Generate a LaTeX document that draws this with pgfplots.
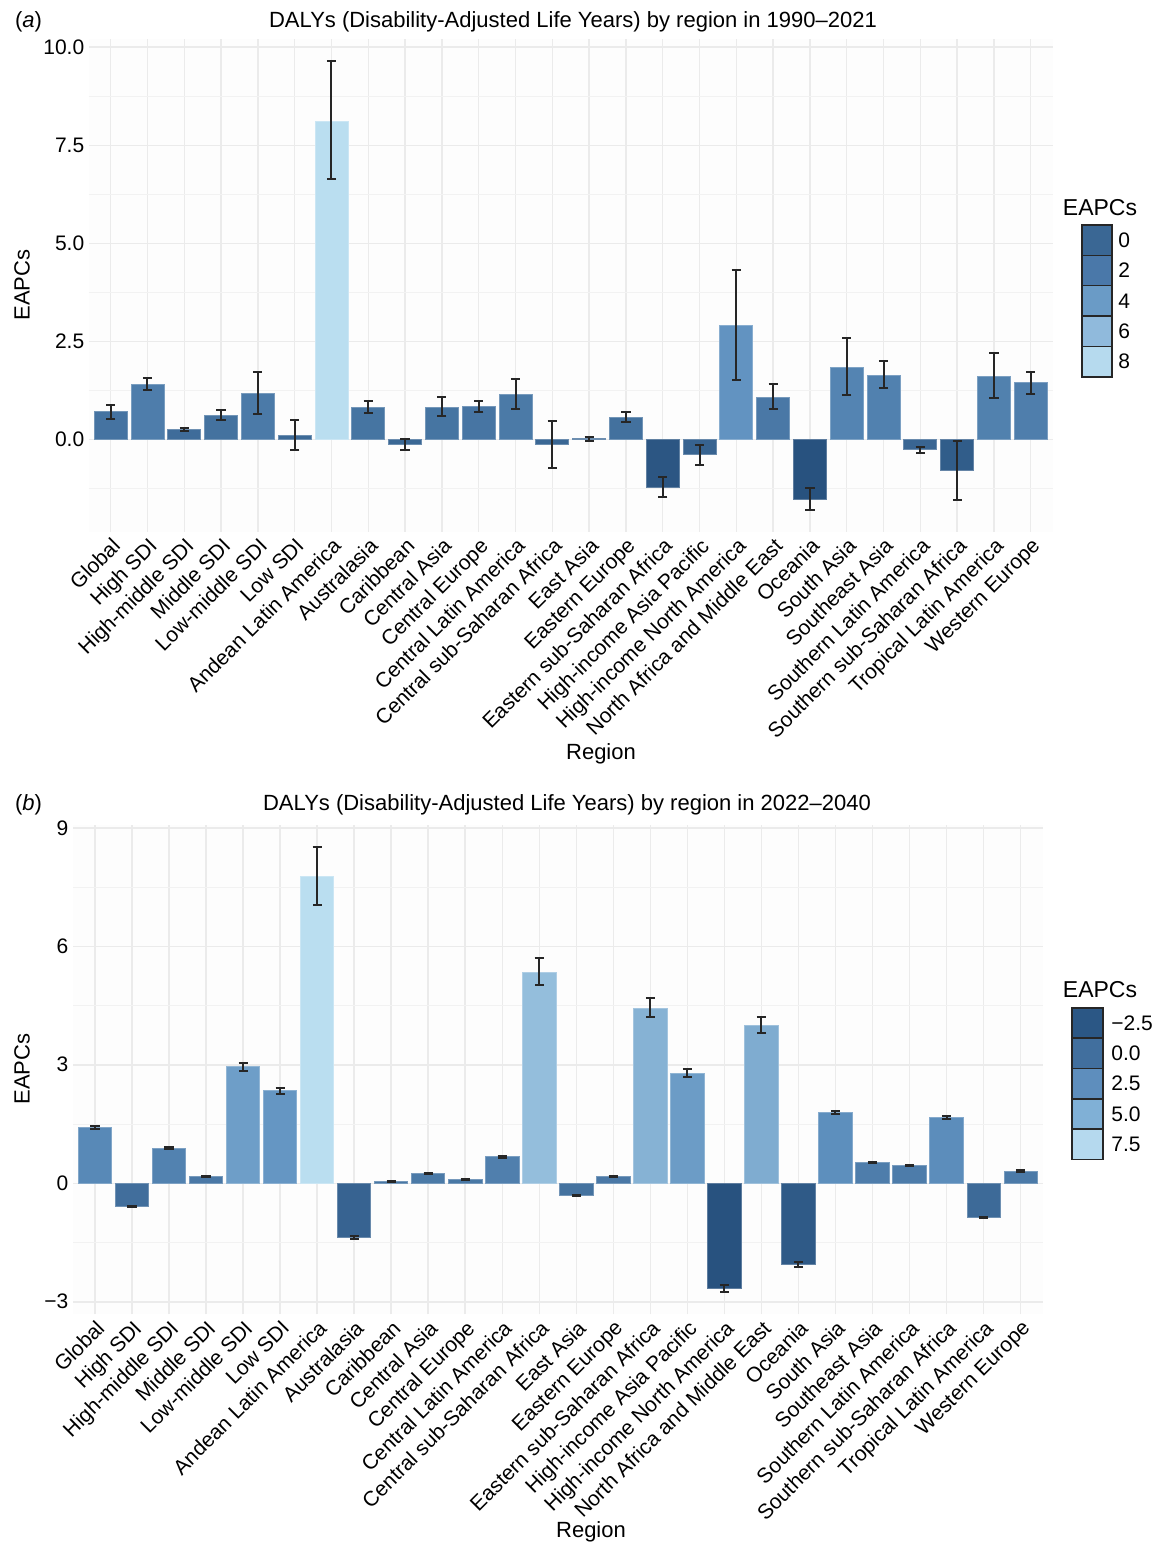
\documentclass[border=0pt]{standalone}
\usepackage{fontspec}
\setmainfont{Liberation Sans}
\usepackage{pgfplots}
\usepackage{pgfplotstable}
\pgfplotsset{compat=1.18}

\definecolor{cLo}{HTML}{28527F}
\definecolor{cMid}{HTML}{6092C0}
\definecolor{cHi}{HTML}{BADEF0}
\definecolor{gridc}{HTML}{EBEBEB}
\definecolor{gridm}{HTML}{F2F2F2}

% 1990-2021: EAPC, upper and lower half-widths of the CI
\pgfplotstableread{
x y ep em
0 0.71 0.18 0.18
1 1.40 0.17 0.14
2 0.25 0.03 0.03
3 0.61 0.14 0.11
4 1.18 0.55 0.53
5 0.10 0.40 0.37
6 8.10 1.54 1.47
7 0.81 0.17 0.14
8 -0.12 0.13 0.16
9 0.81 0.26 0.22
10 0.84 0.15 0.13
11 1.16 0.39 0.38
12 -0.12 0.59 0.60
13 0.02 0.04 0.05
14 0.57 0.14 0.13
15 -1.23 0.26 0.25
16 -0.39 0.25 0.26
17 2.90 1.43 1.38
18 1.07 0.34 0.30
19 -1.53 0.28 0.26
20 1.84 0.74 0.71
21 1.64 0.36 0.32
22 -0.25 0.07 0.09
23 -0.80 0.75 0.74
24 1.62 0.59 0.57
25 1.45 0.28 0.29
}\dataA

% 2022-2040
\pgfplotstableread{
x y ep em
0 1.41 0.03 0.03
1 -0.59 0.02 0.02
2 0.89 0.02 0.02
3 0.17 0.02 0.02
4 2.95 0.10 0.12
5 2.34 0.07 0.07
6 7.77 0.75 0.73
7 -1.38 0.04 0.04
8 0.05 0.02 0.02
9 0.25 0.02 0.02
10 0.10 0.02 0.02
11 0.67 0.02 0.02
12 5.35 0.35 0.34
13 -0.31 0.02 0.02
14 0.17 0.02 0.02
15 4.43 0.25 0.22
16 2.78 0.12 0.09
17 -2.65 0.08 0.10
18 4.00 0.21 0.19
19 -2.05 0.06 0.07
20 1.80 0.04 0.04
21 0.52 0.01 0.01
22 0.45 0.01 0.01
23 1.67 0.04 0.04
24 -0.86 0.01 0.01
25 0.31 0.02 0.02
}\dataB

% fill colour of every bar from its value (dark -> mid -> light)
\newcommand\mkcolors[4]{%
  \pgfplotsforeachungrouped \i in {0,...,25}{%
    \pgfplotstablegetelem{\i}{y}\of#1%
    \pgfmathsetmacro\t{(\pgfplotsretval-(#3))/((#4)-(#3))}%
    \ifdim\t pt<0.45pt
      \pgfmathsetmacro\p{100*\t/0.45}%
      \colorlet{#2\i}{cMid!\p!cLo}%
    \else
      \pgfmathsetmacro\p{100*(\t-0.45)/0.55}%
      \colorlet{#2\i}{cHi!\p!cMid}%
    \fi}}
\mkcolors{\dataA}{ca}{-1.53}{8.10}
\mkcolors{\dataB}{cb}{-2.65}{7.77}

\newcommand\tickfont{\fontsize{10.5}{12}\selectfont}

\pgfplotsset{
  panel/.style={
    scale only axis, anchor=north west,
    xmin=-0.6, xmax=25.6,
    axis line style={draw=none},
    tick style={draw=none},
    xtick={0,...,25},
    xticklabels={Global,High SDI,High-middle SDI,Middle SDI,Low-middle SDI,Low SDI,
      Andean Latin America,Australasia,Caribbean,Central Asia,Central Europe,
      Central Latin America,Central sub-Saharan Africa,East Asia,Eastern Europe,
      Eastern sub-Saharan Africa,High-income Asia Pacific,High-income North America,
      North Africa and Middle East,Oceania,South Asia,Southeast Asia,
      Southern Latin America,Southern sub-Saharan Africa,Tropical Latin America,Western Europe},
    xticklabel style={rotate=45, anchor=north east, font=\tickfont, inner sep=1.5pt},
    yticklabel style={font=\tickfont, inner sep=2pt},
    xmajorgrids, ymajorgrids, yminorgrids,
    major grid style={gridc, line width=0.75pt},
    minor grid style={gridm, line width=0.5pt},
    axis background/.style={fill=black!0.6},
  },
}

\begin{document}
\begin{tikzpicture}
\path[use as bounding box] (0pt,0pt) rectangle (578pt,-776.5pt);

% ---------- (a) ----------
\begin{axis}[panel, at={(44.3pt,-19.5pt)}, width=482.1pt, height=246.5pt,
  ymin=-2.36, ymax=10.21,
  ytick={0,2.5,5,7.5,10}, yticklabels={0.0,2.5,5.0,7.5,10.0},
  minor ytick={-1.25,1.25,3.75,6.25,8.75}]
\pgfplotsinvokeforeach{0,...,25}{
  \addplot[ybar, bar width=0.9, bar shift=0pt, line width=0.4pt,
    fill=ca#1, draw=ca#1!75!white, restrict x to domain=#1:#1,
    error bars/.cd, y dir=both, y explicit,
    error bar style={black!85, line width=1pt},
    error mark options={black!85, line width=1pt, mark size=2.3pt, rotate=90}]
    table[x=x, y=y, y error plus=ep, y error minus=em] {\dataA};
}
\end{axis}

\node[anchor=west, font=\fontsize{11}{13}\selectfont] at (4pt,-11pt) {(\textit{a})};
\node[font=\fontsize{11}{13}\selectfont] at (286.5pt,-11pt)
  {DALYs (Disability-Adjusted Life Years) by region in 1990–2021};
\node[rotate=90, font=\fontsize{11}{13}\selectfont] at (11pt,-142.5pt) {EAPCs};
\node[font=\fontsize{11}{13}\selectfont] at (300.5pt,-377pt) {Region};

% colour bar (a)
\node[font=\fontsize{11.5}{13}\selectfont] at (550pt,-104pt) {EAPCs};
\begin{scope}
\definecolor{k1}{HTML}{3A6794}\definecolor{k2}{HTML}{4A78A9}
\definecolor{k3}{HTML}{6A9BC6}\definecolor{k4}{HTML}{90BADC}\definecolor{k5}{HTML}{B6DAEE}
\foreach \k [count=\j from 0] in {k1,k2,k3,k4,k5}
  \filldraw[fill=\k, draw=black!85, line width=0.8pt]
    (540.85pt,-112.5pt-\j*15.17pt) rectangle (555.85pt,-127.67pt-\j*15.17pt);
\foreach \l [count=\j from 0] in {0,2,4,6,8}
  \node[anchor=west, font=\fontsize{10.5}{12}\selectfont, inner sep=0pt]
    at (559pt,-120.1pt-\j*15.17pt) {\l};
\end{scope}

% ---------- (b) ----------
\begin{axis}[panel, at={(36.4pt,-412.3pt)}, width=485pt, height=244.9pt,
  ymin=-3.32, ymax=9.08,
  ytick={-3,0,3,6,9}, yticklabels={−3,0,3,6,9},
  minor ytick={-1.5,1.5,4.5,7.5}]
\pgfplotsinvokeforeach{0,...,25}{
  \addplot[ybar, bar width=0.9, bar shift=0pt, line width=0.4pt,
    fill=cb#1, draw=cb#1!75!white, restrict x to domain=#1:#1,
    error bars/.cd, y dir=both, y explicit,
    error bar style={black!85, line width=1pt},
    error mark options={black!85, line width=1pt, mark size=2.3pt, rotate=90}]
    table[x=x, y=y, y error plus=ep, y error minus=em] {\dataB};
}
\end{axis}

\node[anchor=west, font=\fontsize{11}{13}\selectfont] at (4pt,-402.5pt) {(\textit{b})};
\node[font=\fontsize{11}{13}\selectfont] at (283.5pt,-402.5pt)
  {DALYs (Disability-Adjusted Life Years) by region in 2022–2040};
\node[rotate=90, font=\fontsize{11}{13}\selectfont] at (11pt,-534.5pt) {EAPCs};
\node[font=\fontsize{11}{13}\selectfont] at (295.5pt,-766pt) {Region};

% colour bar (b)
\node[font=\fontsize{11.5}{13}\selectfont] at (550pt,-495pt) {EAPCs};
\begin{scope}
\definecolor{k1}{HTML}{2B5785}\definecolor{k2}{HTML}{416F9E}
\definecolor{k3}{HTML}{5E8EBD}\definecolor{k4}{HTML}{80B0D6}\definecolor{k5}{HTML}{B5D9EE}
\foreach \k [count=\j from 0] in {k1,k2,k3,k4,k5}
  \filldraw[fill=\k, draw=black!85, line width=0.8pt]
    (535.85pt,-503.9pt-\j*15.15pt) rectangle (551.35pt,-519.05pt-\j*15.15pt);
\foreach \l [count=\j from 0] in {−2.5,0.0,2.5,5.0,7.5}
  \node[anchor=west, font=\fontsize{10.5}{12}\selectfont, inner sep=0pt]
    at (555.5pt,-511.5pt-\j*15.15pt) {\l};
\end{scope}
\end{tikzpicture}
\end{document}
